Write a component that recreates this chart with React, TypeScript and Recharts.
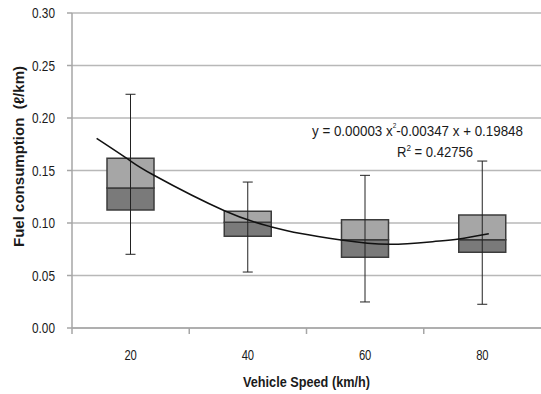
import React from 'react';
import { ComposedChart, Bar, Line, XAxis, YAxis, CartesianGrid, ErrorBar } from 'recharts';

const speeds = [20, 40, 60, 80];
const minVals = [0.0702, 0.0533, 0.0248, 0.0226];
const q1Vals = [0.1124, 0.0873, 0.0673, 0.0721];
const medianVals = [0.1333, 0.1007, 0.0841, 0.0841];
const q3Vals = [0.1616, 0.1111, 0.1031, 0.1076];
const maxVals = [0.2226, 0.139, 0.1454, 0.159];

const trendSpeeds = [14.2, 19.5, 23.9, 36.0, 43.9, 48.8, 55.9, 64, 71.5, 76, 81.1];
const trendVals = [0.1807, 0.161, 0.1457, 0.1117, 0.0965, 0.0902, 0.0838, 0.0797, 0.0822, 0.0848, 0.0898];

const yTicks = [0, 0.05, 0.1, 0.15, 0.2, 0.25, 0.3];
const xLabelTicks = [20, 40, 60, 80];
const xBoundaryTicks = [10, 30, 50, 70];

const data = speeds.map((s, i) => ({
  speed: s,
  base: q1Vals[i],
  lower: medianVals[i] - q1Vals[i],
  upper: q3Vals[i] - medianVals[i],
  wmin: minVals[i],
  whisker: [0, maxVals[i] - minVals[i]],
}));

const trend = trendSpeeds.map((s, i) => ({ num: s, v: trendVals[i] }));

const FONT = "'Liberation Sans', Arial, sans-serif";
const AXIS = '#a6a6a6';
const TEXT = '#1a1a1a';

const XTick = (props: any) => {
  const { x, y, payload } = props;
  const v = payload.value;
  if (xBoundaryTicks.includes(v)) {
    return <line x1={x} y1={y} x2={x} y2={y + 6} stroke={AXIS} strokeWidth={1.5} />;
  }
  if (xLabelTicks.includes(v)) {
    return (
      <text x={x} y={y + 32} textAnchor="middle" fill={TEXT} fontSize={14} fontFamily={FONT} textLength={12.5} lengthAdjust="spacingAndGlyphs">
        {v}
      </text>
    );
  }
  return null;
};

const YLabelTick = (props: any) => {
  const { x, y, payload } = props;
  return (
    <text x={x} y={y + 5} textAnchor="end" fill={TEXT} fontSize={14} fontFamily={FONT} textLength={23} lengthAdjust="spacingAndGlyphs">
      {Number(payload.value).toFixed(2)}
    </text>
  );
};

export default function App() {
  return (
    <div style={{ position: 'absolute', left: 0, top: 0, width: 541, height: 394, background: '#fff' }}>
      <ComposedChart width={541} height={394} data={data} margin={{ top: 13, right: 0, bottom: 0, left: 0 }}>
        <CartesianGrid vertical={false} stroke="#b8b8b8" strokeWidth={1.5} />
        <XAxis dataKey="speed" type="category" hide height={0} />
        <XAxis xAxisId="w" dataKey="speed" type="category" hide height={0} />
        <XAxis
          xAxisId="num"
          dataKey="num"
          type="number"
          domain={[10, 90]}
          ticks={[10, 20, 30, 40, 50, 60, 70, 80]}
          interval={0}
          height={66}
          tickLine={false}
          tickSize={0}
          tickMargin={0}
          axisLine={{ stroke: AXIS, strokeWidth: 1.5 }}
          tick={<XTick />}
          label={{
            content: (p: any) => {
              const vb = p.viewBox;
              return (
                <text x={vb.x + vb.width / 2} y={387} textAnchor="middle" fontSize={14} fontWeight="bold" fontFamily={FONT} fill={TEXT} textLength={127} lengthAdjust="spacingAndGlyphs">
                  Vehicle Speed (km/h)
                </text>
              );
            },
          }}
        />
        <YAxis
          type="number"
          domain={[0, 0.3]}
          ticks={yTicks}
          interval={0}
          width={72}
          tickSize={5}
          tickMargin={12}
          axisLine={{ stroke: AXIS, strokeWidth: 1.5 }}
          tickLine={{ stroke: AXIS, strokeWidth: 1.5 }}
          tick={<YLabelTick />}
          label={{
            content: (p: any) => {
              const vb = p.viewBox;
              const cx = 19;
              const cy = vb.y + vb.height / 2 - 14;
              return (
                <text x={cx} y={cy} transform={`rotate(-90 ${cx} ${cy})`} textAnchor="middle" dominantBaseline="central" fontSize={14} fontWeight="bold" fontFamily={FONT} fill={TEXT} textLength={181} lengthAdjust="spacingAndGlyphs" style={{ whiteSpace: 'pre' }}>
                  {'Fuel consumption  (\u2113/km)'}
                </text>
              );
            },
          }}
        />
        <Bar dataKey="base" stackId="box" fill="none" barSize={47} isAnimationActive={false} />
        <Bar dataKey="lower" stackId="box" fill="#7a7a7a" stroke="#3c3c3c" strokeWidth={1.5} barSize={47} isAnimationActive={false} />
        <Bar dataKey="upper" stackId="box" fill="#a6a6a6" stroke="#3c3c3c" strokeWidth={1.5} barSize={47} isAnimationActive={false} />
        <Bar xAxisId="w" dataKey="wmin" fill="none" barSize={47} isAnimationActive={false}>
          <ErrorBar dataKey="whisker" width={5} stroke="#222" strokeWidth={1} direction="y" />
        </Bar>
        <Line xAxisId="num" data={trend} dataKey="v" type="natural" stroke="#111" strokeWidth={1.5} dot={false} isAnimationActive={false} />
      </ComposedChart>
      <svg width={541} height={394} style={{ position: 'absolute', left: 0, top: 0, pointerEvents: 'none' }}>
        <text x={312} y={136} fontSize={14.5} fontFamily={FONT} fill={TEXT} textLength={211} lengthAdjust="spacingAndGlyphs">
          y = 0.00003 x<tspan fontSize={7} dy={-8}>2</tspan><tspan dy={8}>-0.00347 x + 0.19848</tspan>
        </text>
        <text x={397} y={157} fontSize={14.5} fontFamily={FONT} fill={TEXT} textLength={76} lengthAdjust="spacingAndGlyphs">
          R<tspan fontSize={9} dy={-6}>2</tspan><tspan dy={6}> = 0.42756</tspan>
        </text>
      </svg>
    </div>
  );
}
